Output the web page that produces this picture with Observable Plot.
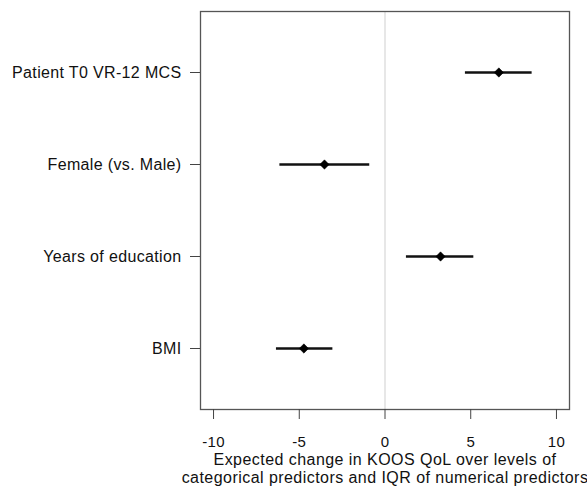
<!DOCTYPE html>
<html>
<head>
<meta charset="utf-8">
<script src="https://cdn.jsdelivr.net/npm/d3@7"></script>
<script src="https://cdn.jsdelivr.net/npm/@observablehq/plot@0.6"></script>
<style>
  html, body { margin: 0; padding: 0; background: #fff; }
  svg text { fill: #111; }
  svg g[aria-label="x-axis tick label"] { letter-spacing: 0.3px; font-size: 15px; }
  svg g[aria-label="y-axis tick label"] { letter-spacing: 0.35px; }
</style>
</head>
<body>
<div id="chart"></div>
<script>
const predictors = ["Patient T0 VR-12 MCS", "Female (vs. Male)", "Years of education", "BMI"];
const estimate = [6.64, -3.53, 3.24, -4.73];
const lower = [4.69, -6.13, 1.25, -6.33];
const upper = [8.58, -0.89, 5.18, -3.04];
const xTicks = [-10, -5, 0, 5, 10];
const xLabel = "Expected change in KOOS QoL over levels of\ncategorical predictors and IQR of numerical predictors";

const rows = predictors.map((p, i) => ({ predictor: p, est: estimate[i], lo: lower[i], hi: upper[i] }));

const chart = Plot.plot({
  width: 587,
  height: 489,
  marginLeft: 200,
  marginRight: 18,
  marginTop: 11,
  marginBottom: 80,
  style: {
    fontFamily: "'Liberation Sans', Arial, Helvetica, sans-serif",
    fontSize: "16px",
    color: "#111",
    background: "#fff"
  },
  x: { domain: [-10.76, 10.76] },
  y: { type: "point", domain: predictors, padding: 0.647 },
  marks: [
    Plot.ruleX([0], { stroke: "#cfcfcf", strokeWidth: 1 }),
    Plot.frame({ stroke: "#555", strokeWidth: 1.3 }),
    Plot.axisX({ ticks: xTicks, tickFormat: d => `${d}`, tickSize: 10, tickPadding: 17, label: null, stroke: "#444", fill: "#111", fontSize: 15 }),
    Plot.axisY({ tickSize: 10, tickPadding: 9, label: null, stroke: "#444", fill: "#111" }),
    Plot.ruleY(rows, { y: "predictor", x1: "lo", x2: "hi", stroke: "#111", strokeWidth: 2.5 }),
    Plot.dot(rows, { x: "est", y: "predictor", symbol: "diamond2", r: 4.2, fill: "#000", stroke: "#000", strokeWidth: 0.5 }),
    Plot.text([xLabel], { frameAnchor: "bottom", lineAnchor: "top", dy: 42, lineHeight: 1.15, fill: "#111", fontSize: 16 })
  ]
});

document.getElementById("chart").appendChild(chart);
chart.querySelectorAll('g[aria-label="text"]').forEach(g => g.setAttribute("letter-spacing", "0.45px"));
</script>
</body>
</html>
